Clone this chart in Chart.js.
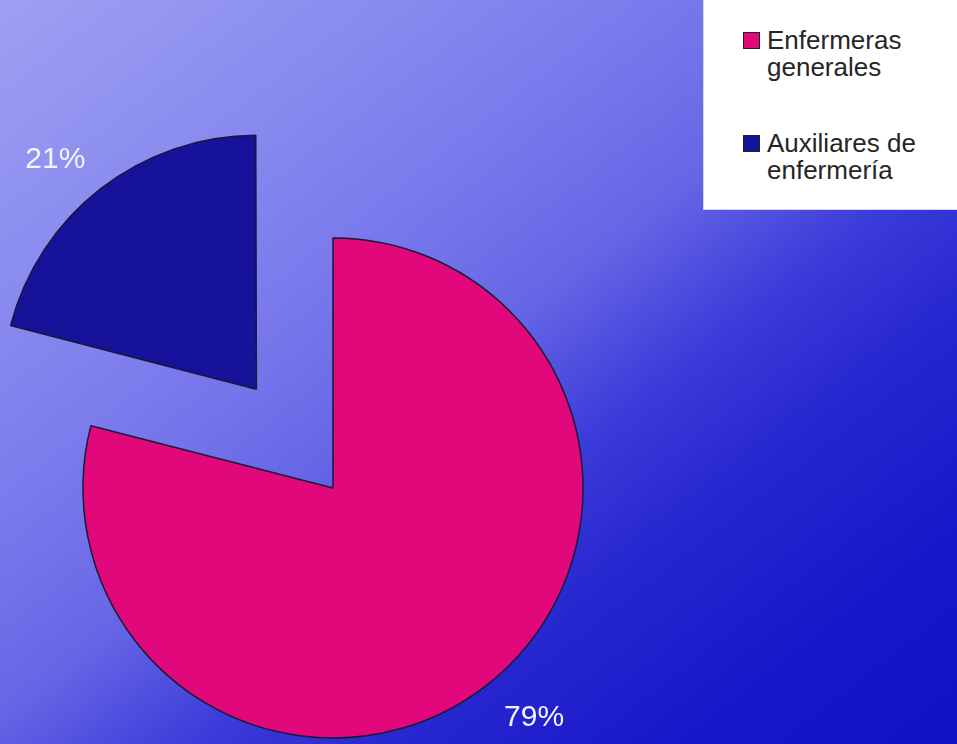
<!DOCTYPE html>
<html lang="es">
<head>
<meta charset="utf-8">
<title>Personal de enfermería</title>
<script src="https://cdn.jsdelivr.net/npm/chart.js@4.4.1/dist/chart.umd.min.js"></script>
<style>
html, body {
  margin: 0;
  padding: 0;
}
body {
  width: 957px;
  height: 744px;
  overflow: hidden;
  position: relative;
  background: linear-gradient(to bottom right, #9ea0f2 0%, #8486ee 25%, #7878ec 36%, #6666e6 48%, #3c3cda 60%, #2828d0 70%, #1818ca 85%, #1010c6 100%);
  font-family: "Liberation Sans", Arial, sans-serif;
}
#wrap {
  position: absolute;
  left: 0;
  top: 0;
  width: 957px;
  height: 744px;
}
#leyenda {
  position: absolute;
  left: 703px;
  top: 0;
  width: 254px;
  height: 210px;
  background: #fff;
  box-sizing: border-box;
  border-left: 1px solid #d4d4e4;
  border-bottom: 1px solid #d4d4e4;
  padding-top: 27px;
}
#leyenda .item {
  position: relative;
  padding-left: 63px;
  font-size: 26px;
  line-height: 27px;
  color: #262626;
  width: 180px;
}
#leyenda .item + .item {
  margin-top: 49px;
}
#leyenda .caja {
  position: absolute;
  left: 39px;
  top: 5px;
  width: 15px;
  height: 15px;
  border: 1px solid #222;
}
</style>
</head>
<body>
<div id="wrap"><canvas id="grafico"></canvas></div>
<div id="leyenda"></div>
<script>
const categorias = ['Enfermeras generales', 'Auxiliares de enfermería'];
const porcentajes = [79, 21];
const desplazamiento = [0, 500];

const colores = ['#e0087b', '#17129a'];

// etiquetas de porcentaje fuera de cada sector
const etiquetasPct = {
  id: 'etiquetasPct',
  afterDatasetsDraw(chart) {
    const ctx = chart.ctx;
    const meta = chart.getDatasetMeta(0);
    ctx.save();
    ctx.font = '30px "Liberation Sans", Arial, sans-serif';
    ctx.fillStyle = '#f4f4ff';
    ctx.textAlign = 'center';
    ctx.textBaseline = 'middle';
    meta.data.forEach((arc, i) => {
      const medio = (arc.startAngle + arc.endAngle) / 2;
      const off = (desplazamiento[i] || 0) / 4;
      const cx = arc.x + Math.cos(medio) * off;
      const cy = arc.y + Math.sin(medio) * off;
      const ang = medio - 0.06;
      const r = arc.outerRadius + 55;
      ctx.fillText(porcentajes[i] + '%', cx + Math.cos(ang) * r, cy + Math.sin(ang) * r);
    });
    ctx.restore();
  }
};

const chart = new Chart(document.getElementById('grafico').getContext('2d'), {
  type: 'pie',
  data: {
    labels: categorias,
    datasets: [{
      data: porcentajes,
      backgroundColor: colores,
      borderColor: '#181838',
      borderWidth: 1.5,
      offset: desplazamiento,
      clip: false
    }]
  },
  options: {
    responsive: true,
    maintainAspectRatio: false,
    animation: false,
    events: [],
    radius: 250,
    layout: {
      padding: { left: 0, right: 291, top: 232, bottom: 0 }
    },
    plugins: {
      legend: { display: false },
      tooltip: { enabled: false }
    }
  },
  plugins: [etiquetasPct]
});

// leyenda en HTML para poder partir el texto en dos líneas
const leyenda = document.getElementById('leyenda');
chart.data.labels.forEach((txt, i) => {
  const item = document.createElement('div');
  item.className = 'item';
  const caja = document.createElement('span');
  caja.className = 'caja';
  caja.style.background = chart.data.datasets[0].backgroundColor[i];
  item.appendChild(caja);
  item.appendChild(document.createTextNode(txt));
  leyenda.appendChild(item);
});
</script>
</body>
</html>
